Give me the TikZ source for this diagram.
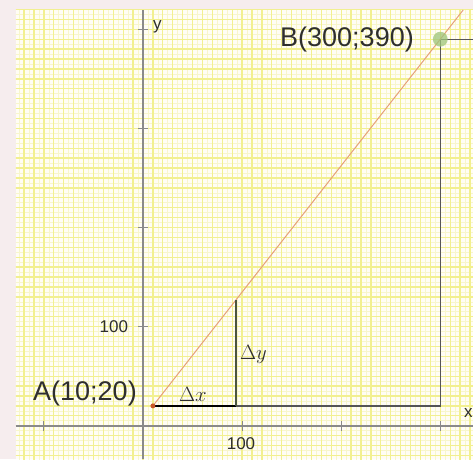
\documentclass[tikz,border=0pt]{standalone}
\usepackage{fontspec}
\setsansfont{Liberation Sans}
\definecolor{bgpink}{HTML}{F6EDEE}
\definecolor{cellbg}{HTML}{FFFDF4}
\definecolor{majgrid}{HTML}{F2F090}
\definecolor{mingrid}{HTML}{F8F6CC}
\definecolor{axisgray}{HTML}{8A8A8A}
\definecolor{framegray}{HTML}{555555}
\definecolor{labelgray}{HTML}{2E2E2E}
\definecolor{ablinec}{HTML}{E6A07A}
\definecolor{adotc}{HTML}{C8582A}
\definecolor{bdotc}{HTML}{9DC47A}
\definecolor{dyc}{HTML}{4B5540}
\begin{document}
\begin{tikzpicture}[x=1pt,y=1pt,
  lbl/.style={inner sep=0pt, text=labelgray, font=\sffamily\fontsize{27}{30}\selectfont},
  axlbl/.style={inner sep=0pt, text=labelgray, font=\sffamily\fontsize{17}{19}\selectfont},
  dlbl/.style={inner sep=0pt, text=labelgray, font=\fontsize{20.74}{24}\selectfont},
  axisline/.style={draw=axisgray, line width=1.8pt},
  tickline/.style={draw=axisgray, line width=1pt},
  framel/.style={draw=framegray, line width=1.3pt},
  majorg/.style={draw=majgrid, line width=1.3pt},
  minorg/.style={draw=mingrid, line width=0.6pt},
  abl/.style={draw=ablinec, line width=1pt},
  dxl/.style={draw=black, line width=2.2pt},
  dyl/.style={draw=dyc, line width=2pt},
  ]
\useasboundingbox (0,0) rectangle (473,459);
\fill[bgpink] (0,0) rectangle (473,459);
\fill[cellbg] (16,0) rectangle (473,449);
\begin{scope}[shift={(143,33.3)}, x=0.991pt, y=0.991pt]
  \begin{scope}
    \clip (-128.2,-33.6) rectangle (333.1,419.5);
    \foreach \u in {-125,-115,...,335} \draw[minorg] (\u,-40) -- (\u,425);
    \foreach \v in {-35,-25,...,425} \draw[minorg] (-130,\v) -- (340,\v);
    \foreach \u in {-130,-120,...,340} \draw[majorg] (\u,-40) -- (\u,425);
    \foreach \v in {-40,-30,...,420} \draw[majorg] (-130,\v) -- (340,\v);
  \end{scope}
  \coordinate (xl) at (-128.2,0);
  \coordinate (xr) at (333.1,0);
  \coordinate (yb) at (0,-33.6);
  \coordinate (yt) at (0,419.5);
  \draw[axisline] (xl) -- (xr);
  \draw[axisline] (yb) -- (yt);
  \foreach \t in {-100,100,200,300} \draw[tickline] (\t,-5) -- (\t,5);
  \foreach \t in {100,200,300,400} \draw[tickline] (-5,\t) -- (5,\t);
  \coordinate (A) at (10,20);
  \coordinate (B) at (300,390);
  \coordinate (C) at (300,20);
  \coordinate (D) at (94,20);
  \coordinate (E) at (94,127.2);
  \coordinate (Bext) at (323.1,419.5);
  \coordinate (Bright) at (333.1,390);
  \draw[framel] (D) -- (C) -- (B) -- (Bright);
  \draw[abl] (A) -- (Bext);
  \draw[dxl] (A) -- (D);
  \draw[dyl] (D) -- (E);
  \fill[adotc] (A) circle (2.5);
  \fill[bdotc, opacity=0.75] (B) circle (7.5);
\end{scope}
\node[lbl, anchor=base west] (la) at (33,59) {A(10;20)};
\node[lbl, anchor=base west] (lb) at (280,413) {B(300;390)};
\node[dlbl, anchor=base] (ldx) at (193,58) {$\Delta x$};
\node[dlbl, anchor=base west] (ldy) at (240,100) {$\Delta y$};
\node[axlbl, anchor=base east] (ly100) at (128.3,126.7) {100};
\node[axlbl, anchor=base] (lx100) at (241,10) {100};
\node[axlbl, anchor=base west] (ly) at (153,429) {y};
\node[axlbl, anchor=base west] (lx) at (464,42) {x};
\end{tikzpicture}
\end{document}
